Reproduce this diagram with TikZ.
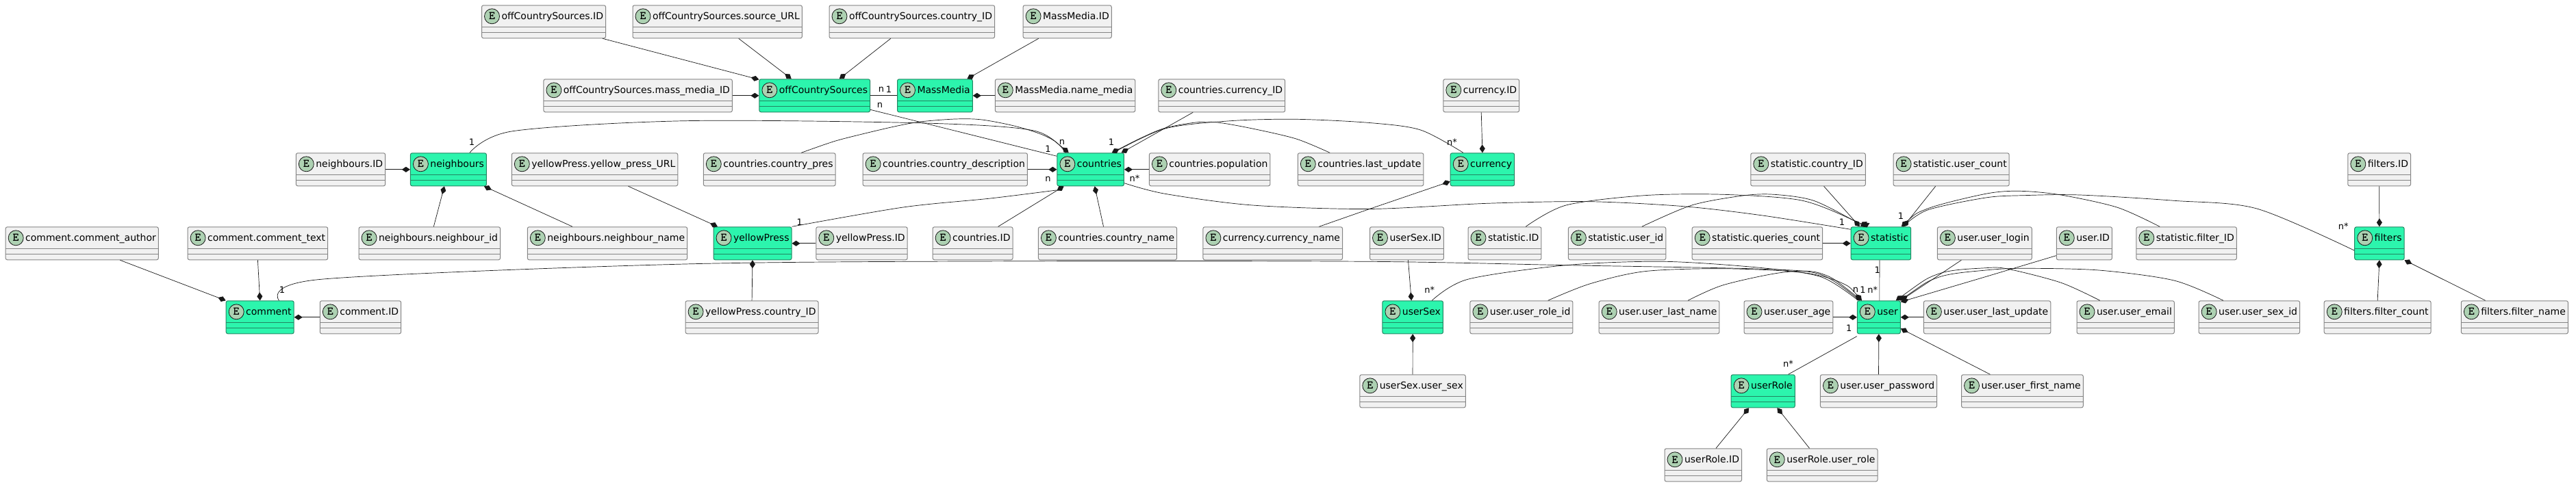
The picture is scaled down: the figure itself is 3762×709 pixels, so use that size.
\documentclass[tikz,border=0pt]{standalone}
\usepackage{fontspec}
\setmainfont{DejaVu Sans}
\usetikzlibrary{arrows.meta}
\definecolor{fieldbg}{HTML}{F1F1F1}
\definecolor{fieldline}{HTML}{848484}
\definecolor{tablebg}{HTML}{2CF5AD}
\definecolor{tableline}{HTML}{228662}
\definecolor{badgebg}{HTML}{ADD1B2}
\definecolor{relline}{HTML}{181818}
\begin{document}
\begin{tikzpicture}[x=1pt,y=-1pt,font=\fontsize{14}{16}\selectfont,
  entity/.style 2 args={rectangle,rounded corners=2.5pt,draw=#2,fill=#1,line width=1pt,anchor=north west,inner ysep=0pt,inner xsep=3.5pt,text height=21pt,text depth=27pt,execute at begin node={\hspace*{25.5pt}},
    path picture={
      \draw[#2,line width=1pt] ([yshift=-32pt]path picture bounding box.north west) -- ([yshift=-32pt]path picture bounding box.north east);
      \draw[#2,line width=1pt] ([yshift=-40pt]path picture bounding box.north west) -- ([yshift=-40pt]path picture bounding box.north east);
      \draw[relline,fill=badgebg,line width=.8pt] ([xshift=15pt,yshift=-16pt]path picture bounding box.north west) circle (11pt);
      \node[text height=,text depth=,inner sep=0pt,execute at begin node={\hspace*{-25.5pt}},anchor=center,font=\fontsize{17}{17}\ttfamily\bfseries] at ([xshift=15pt,yshift=-16pt]path picture bounding box.north west) {E};
    }},
  attr/.style={entity={fieldbg}{fieldline}},
  tbl/.style={entity={tablebg}{tableline}},
  has/.style={relline,line width=.7pt,{Diamond[length=12pt,width=8pt]}-},
  rel/.style={relline,line width=.7pt},
  card/.style={font=\fontsize{13}{15}\selectfont,inner sep=0pt}]
\useasboundingbox (0,0) rectangle (3762,709);

% first row
\node[attr] (srcID) at (703,7.3) {offCountrySources.ID};
\node[attr] (srcURL) at (923.5,7.3) {offCountrySources.source\_URL};
\node[attr] (srcCountry) at (1210.5,7.3) {offCountrySources.country\_ID};
\node[attr] (mediaID) at (1493.6,7.3) {MassMedia.ID};

% second row
\node[attr] (srcMedia) at (793.4,115.3) {offCountrySources.mass\_media\_ID};
\node[tbl] (sources) at (1108.4,115.3) {offCountrySources};
\node[tbl] (media) at (1310,115.3) {MassMedia};
\node[attr] (mediaName) at (1452.8,115.3) {MassMedia.name\_media};
\node[attr] (cCurrency) at (1691.3,115.3) {countries.currency\_ID};
\node[attr] (currencyID) at (2107.3,115.3) {currency.ID};

% third row
\node[attr] (nbID) at (431.8,223.3) {neighbours.ID};
\node[tbl] (neighbours) at (598.9,223.3) {neighbours};
\node[attr] (ypURL) at (746.8,223.3) {yellowPress.yellow\_press\_URL};
\node[attr] (cPres) at (1026.8,223.3) {countries.country\_pres};
\node[attr] (cDesc) at (1259.6,223.3) {countries.country\_description};
\node[tbl] (countries) at (1543.4,223.3) {countries};
\node[attr] (cPop) at (1677.9,223.3) {countries.population};
\node[attr] (cUpdate) at (1894.8,223.3) {countries.last\_update};
\node[tbl] (currency) at (2117.7,223.3) {currency};
\node[attr] (stCountry) at (2556.3,223.3) {statistic.country\_ID};
\node[attr] (stCount) at (2764.6,223.3) {statistic.user\_count};
\node[attr] (filID) at (3428.3,223.3) {filters.ID};

% fourth row
\node[attr] (comAuthor) at (7.7,331.3) {comment.comment\_author};
\node[attr] (comText) at (273.6,331.3) {comment.comment\_text};
\node[attr] (nbNbID) at (523.6,331.3) {neighbours.neighbour\_id};
\node[attr] (nbName) at (769.8,331.3) {neighbours.neighbour\_name};
\node[tbl] (yellow) at (1041.5,331.3) {yellowPress};
\node[attr] (ypID) at (1191.3,331.3) {yellowPress.ID};
\node[attr] (cID) at (1361.6,331.3) {countries.ID};
\node[attr] (cName) at (1515.9,331.3) {countries.country\_name};
\node[attr] (curName) at (1756.4,331.3) {currency.currency\_name};
\node[attr] (sexID) at (2000,331.3) {userSex.ID};
\node[attr] (stID) at (2143.5,331.3) {statistic.ID};
\node[attr] (stUser) at (2289.9,331.3) {statistic.user\_id};
\node[attr] (stQuery) at (2470.7,331.3) {statistic.queries\_count};
\node[tbl] (statistic) at (2702.6,331.3) {statistic};
\node[attr] (uLogin) at (2828.9,331.3) {user.user\_login};
\node[attr] (uID) at (3002.8,331.3) {user.ID};
\node[attr] (stFilter) at (3119.3,331.3) {statistic.filter\_ID};
\node[tbl] (filters) at (3438.2,331.3) {filters};

% fifth row
\node[tbl] (comment) at (329.7,439.3) {comment};
\node[attr] (comID) at (466.8,439.3) {comment.ID};
\node[attr] (ypCountry) at (1000.6,439.3) {yellowPress.country\_ID};
\node[tbl] (userSex) at (2018.4,439.3) {userSex};
\node[attr] (uRole) at (2146.4,439.3) {user.user\_role\_id};
\node[attr] (uLast) at (2334.7,439.3) {user.user\_last\_name};
\node[attr] (uAge) at (2546.5,439.3) {user.user\_age};
\node[tbl] (user) at (2711.8,439.3) {user};
\node[attr] (uUpdate) at (2808.9,439.3) {user.user\_last\_update};
\node[attr] (uEmail) at (3032.5,439.3) {user.user\_email};
\node[attr] (uSex) at (3210.6,439.3) {user.user\_sex\_id};
\node[attr] (filCount) at (3393.7,439.3) {filters.filter\_count};
\node[attr] (filName) at (3593.8,439.3) {filters.filter\_name};

% sixth and seventh row
\node[attr] (sexSex) at (1985.3,547.3) {userSex.user\_sex};
\node[tbl] (userRole) at (2527.6,547.3) {userRole};
\node[attr] (uPass) at (2657.9,547.3) {user.user\_password};
\node[attr] (uFirst) at (2864,547.3) {user.user\_first\_name};
\node[attr] (roleID) at (2430.5,655.3) {userRole.ID};
\node[attr] (roleRole) at (2579.8,655.3) {userRole.user\_role};

% offCountrySources and MassMedia
\draw[has] ([yshift=-1pt]sources.north west) -- ([xshift=86pt]srcID.south);
\draw[has] ([xshift=-34pt]sources.north) -- ([xshift=31pt]srcURL.south);
\draw[has] ([xshift=36pt]sources.north) -- ([xshift=-31pt]srcCountry.south);
\draw[has] ([xshift=47pt]media.north) -- ([xshift=-42pt]mediaID.south);
\draw[has] (sources.west) -- (srcMedia.east);
\draw[has] (media.east) -- (mediaName.west);
\draw[rel] (sources.east) -- (media.west);
\draw[rel] ([yshift=4pt]sources.south east) -- ([yshift=-5pt]countries.north west);

% countries
\draw[has] ([xshift=45pt]countries.north) -- ([xshift=-42pt]cCurrency.south);
\draw[has] (countries.west) -- (cDesc.east);
\draw[has] (countries.east) -- (cPop.west);
\draw[has] ([xshift=-39pt]countries.south) -- ([xshift=37pt]cID.north);
\draw[has] ([xshift=6pt]countries.south) -- ([xshift=-6pt]cName.north);
\draw[has] plot[smooth] coordinates {([xshift=-32pt]countries.north) (1529,200) (1485,185) (1434,175) (1395,174) (1344,178) (1306,185) (1255,197) (1217,207) ([xshift=46.5pt]cPres.north)};
\draw[has] plot[smooth] coordinates {([xshift=31pt]countries.north) (1670,200) (1702,187) (1746,179) (1778,179) (1829,188) (1893,203) ([xshift=-45pt]cUpdate.north)};
\draw[rel] plot[smooth] coordinates {([xshift=31pt]neighbours.north) (749,191.7) (1000,176.7) (1350,180) (1510,191) ([xshift=-36pt]countries.north)};
\draw[rel] plot[smooth] coordinates {([xshift=33pt]countries.north) (1701.5,188) (1797,176.7) (1893,174.3) (2000,179.5) (2074.6,190) ([xshift=-28pt]currency.north)};
\draw[rel] plot[smooth] coordinates {([yshift=4.6pt]countries.south east) (1701.5,283.3) (1829,300) (2000,305.5) (2172,297.3) (2321.5,294.7) (2459,301.7) (2574,315) ([yshift=-4pt]statistic.north west)};
\draw[rel] plot[smooth] coordinates {([xshift=57.5pt]yellow.north) (1319,303) (1446.4,290) ([yshift=-5.6pt]countries.south west)};

% currency
\draw[has] (currency.north) -- (currencyID.south);
\draw[has] ([yshift=7pt]currency.south west) -- (2000,305.5) -- ([xshift=67.6pt]curName.north);

% neighbours
\draw[has] (neighbours.west) -- (nbID.east);
\draw[has] ([xshift=-6pt]neighbours.south) -- ([xshift=6pt]nbNbID.north);
\draw[has] ([xshift=52pt]neighbours.south) -- ([xshift=-51pt]nbName.north);

% yellowPress
\draw[has] ([xshift=-51pt]yellow.north) -- ([xshift=49pt]ypURL.south);
\draw[has] (yellow.east) -- (ypID.west);
\draw[has] (yellow.south) -- (ypCountry.north);

% comment
\draw[has] (comment.north west) -- ([xshift=55.6pt]comAuthor.south);
\draw[has] (comment.north) -- (comText.south);
\draw[has] (comment.east) -- (comID.west);
\draw[rel] plot[smooth] coordinates {([xshift=27.8pt]comment.north) (468.8,408.3) (1000,386) (1510,381.7) (2000,382.3) (2287,387.7) (2574,393.3) (2660,401.7) ([xshift=-28pt]user.north)};

% statistic
\draw[has] ([xshift=-31pt]statistic.north) -- ([xshift=23pt]stCountry.south);
\draw[has] ([xshift=32.8pt]statistic.north) -- ([xshift=-23pt]stCount.south);
\draw[has] (statistic.west) -- (stQuery.east);
\draw[has] plot[smooth] coordinates {([xshift=-30pt]statistic.north) (2709,323) (2631,293) (2516.7,284.3) (2401.8,285.7) (2287,300) ([xshift=30.7pt]stID.north)};
\draw[has] plot[smooth] coordinates {([xshift=-27.5pt]statistic.north) (2711.8,325) (2648.7,293.3) (2591,284.3) (2545.4,286) (2470.7,300) ([xshift=36.2pt]stUser.north)};
\draw[has] plot[smooth] coordinates {([xshift=30pt]statistic.north) (2815,305) (2900,283.3) (2949.5,279.3) (3010,285) (3092.4,303.3) ([xshift=-39pt]stFilter.north)};
\draw[rel] plot[smooth] coordinates {([xshift=32pt]statistic.north) (2815,307) (2900,289) (2955,285.7) (3037.4,285) (3174.9,293.3) (3295.8,305) ([yshift=-10.3pt]filters.west)};
\draw[rel] ([xshift=-2pt]statistic.south) -- ([xshift=1pt]user.north);

% filters
\draw[has] (filters.north) -- (filID.south);
\draw[has] (filters.south) -- (filCount.north);
\draw[has] (filters.south east) -- ([xshift=-42.7pt]filName.north);

% user
\draw[has] (user.west) -- (uAge.east);
\draw[has] (user.east) -- (uUpdate.west);
\draw[has] (user.south) -- (uPass.north);
\draw[has] ([yshift=8pt]user.south east) -- ([xshift=-47pt]uFirst.north);
\draw[has] (user.north east) -- ([xshift=-34pt]uLogin.south);
\draw[has] ([yshift=-2pt]user.north east) -- (2900,404.5) -- ([yshift=6.6pt]uID.south west);
\draw[has] plot[smooth] coordinates {([xshift=-25pt]user.north) (2688.9,413.3) (2631.5,398.3) (2516.7,392.7) (2401.8,396.7) (2321.5,415) ([xshift=38.7pt]uRole.north)};
\draw[has] plot[smooth] coordinates {([xshift=-25pt]user.north) (2660,400) (2602.8,398.3) (2516.7,416.7) ([xshift=42pt]uLast.north)};
\draw[has] plot[smooth] coordinates {([xshift=25pt]user.north) (2832,400) (2900,391.7) (2933,393.3) (3010,413.3) ([xshift=-37.4pt]uEmail.north)};
\draw[has] plot[smooth] coordinates {([xshift=31pt]user.north) (2832,405) (2900,395) (2955,392.3) (3065,395) (3174.9,410) ([xshift=-38pt]uSex.north)};
\draw[rel] plot[smooth] coordinates {([xshift=28pt]userSex.north) (2143.5,408.3) (2287,387.7) (2430.5,382.3) (2574,391.7) (2660,405) ([xshift=-30pt]user.north)};
\draw[rel] ([yshift=-3.3pt]user.south west) -- ([xshift=36.8pt]userRole.north);

% userSex and userRole
\draw[has] ([xshift=-2pt]userSex.north) -- ([xshift=2pt]sexID.south);
\draw[has] (userSex.south) -- (sexSex.north);
\draw[has] ([xshift=-20.6pt]userRole.south) -- ([xshift=18.7pt]roleID.north);
\draw[has] ([xshift=20.7pt]userRole.south) -- ([xshift=-18.6pt]roleRole.north);

% cardinalities
\node[card] (c1) at (1287,131) {n};
\node[card] (c2) at (1298,131) {1};
\node[card] (c3) at (1285,154) {n};
\node[card] (c4) at (1530.6,217.3) {1};
\node[card] (c5) at (689,207.7) {1};
\node[card] (c6) at (1551,208.3) {n};
\node[card] (c7) at (1623,208) {1};
\node[card] (c8) at (2120.5,207.7) {n*};
\node[card] (c9) at (1530.6,261.7) {n};
\node[card] (c10) at (1167.7,325) {1};
\node[card] (c11) at (1657,261) {n*};
\node[card] (c12) at (2690,324.3) {1};
\node[card] (c13) at (2776,315.7) {1};
\node[card] (c14) at (3422.3,331) {n*};
\node[card] (c15) at (412,423.3) {1};
\node[card] (c16) at (2710,424) {n};
\node[card] (c17) at (2720.5,424) {1};
\node[card] (c18) at (2734.8,424) {n*};
\node[card] (c19) at (2741.7,394.3) {1};
\node[card] (c20) at (2087.8,423.3) {n*};
\node[card] (c21) at (2700.3,480) {1};
\node[card] (c22) at (2611.4,531.7) {n*};

\end{tikzpicture}
\end{document}
